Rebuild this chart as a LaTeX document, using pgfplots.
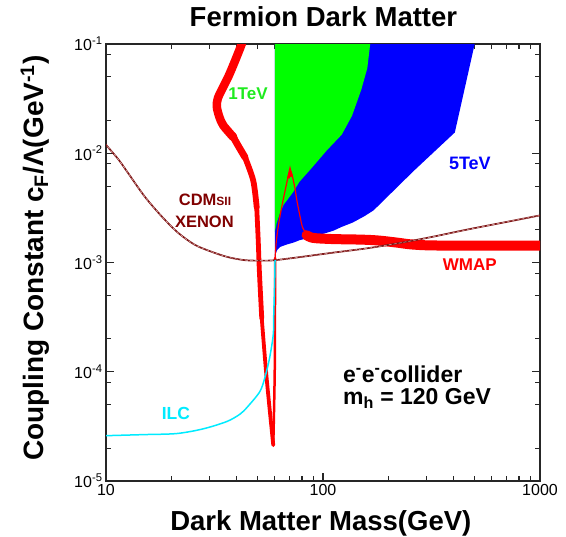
\documentclass[border=0pt]{standalone}
\usepackage{pgfplots}
\pgfplotsset{compat=1.18}
\usepackage{fontspec}
\setmainfont{Liberation Sans}

\definecolor{wmapred}{RGB}{255,0,0}
\definecolor{tevgreen}{RGB}{0,255,0}
\definecolor{tevgreentext}{RGB}{30,235,30}
\definecolor{tevblue}{RGB}{0,0,255}
\definecolor{ilccyan}{RGB}{0,235,255}
\definecolor{cdmsbrown}{RGB}{125,20,20}
\definecolor{cdmslight}{RGB}{225,180,180}
\definecolor{cdmstext}{RGB}{128,0,0}

\newcommand{\fs}[1]{\fontsize{#1bp}{#1bp}\selectfont}

\begin{document}
\begin{tikzpicture}
\begin{axis}[
  scale only axis, width=434bp, height=437bp,
  xmode=log, ymode=log,
  xmin=10, xmax=1000, ymin=1e-5, ymax=1e-1,
  xtick={10,100,1000}, xticklabels={10,100,1000},
  ytick={1e-5,1e-4,1e-3,1e-2,1e-1},
  yticklabels={10\textsuperscript{-5},10\textsuperscript{-4},10\textsuperscript{-3},10\textsuperscript{-2},10\textsuperscript{-1}},
  minor xtick={20,30,40,50,60,70,80,90,200,300,400,500,600,700,800,900},
  minor ytick={2e-5,5e-5,8e-5,2e-4,5e-4,8e-4,2e-3,5e-3,8e-3,2e-2,5e-2,8e-2},
  major tick length=8bp, minor tick length=5bp,
  tick style={line width=1.1bp, color=black!85},
  axis line style={line width=1.3bp, black!85},
  tick label style={font=\fs{16}},
  title={Fermion Dark Matter},
  title style={font=\bfseries\fs{27.5}, at={(axis description cs:0.501,1.027)}, anchor=base},
  xlabel={Dark Matter Mass(GeV)},
  xlabel style={font=\bfseries\fs{27.5}, at={(axis description cs:0.495,-0.1144)}, anchor=base},
  ylabel={Coupling Constant c\textsubscript{F}/Λ(GeV\textsuperscript{-1})},
  ylabel style={font=\bfseries\fs{28}, at={(axis description cs:-0.145,0.51)}, anchor=base},
]
% 5 TeV reach
\addplot[fill=tevblue, draw=none] coordinates {
  (60,1.05e-3) (60.5,1.2e-3) (61.5,1.3e-3) (63.5,1.39e-3) (68,1.46e-3)
  (73,1.52e-3) (78,1.6e-3) (90,1.72e-3) (104,1.87e-3) (112,1.96e-3)
  (122,2.12e-3) (137,2.32e-3) (155,2.65e-3) (171,3.0e-3) (262,6.9e-3)
  (405,0.0155) (500,0.1) (60,0.1)} -- cycle;
% 1 TeV reach
\addplot[fill=tevgreen, draw=none] coordinates {
  (60,0.1) (165,0.1) (160,0.06) (150,0.038) (136,0.022) (122,0.0148)
  (104,0.0106) (88,0.0072) (78,0.0055) (72.8,4.4e-3) (66,3.4e-3)
  (63.4,2.85e-3) (61.2,2.3e-3) (60,1.9e-3)} -- cycle;
% WMAP relic abundance band
\addplot[wmapred, line width=8.5bp, smooth, line cap=round, line join=round] coordinates {
  (43.5,0.13) (42.2,0.1) (37.2,0.0538) (34.7,0.0405) (32.8,0.032) (32.4,0.0268)
  (33.3,0.0215) (34.7,0.018) (38.6,0.01406)};
\addplot[wmapred, line width=7bp, smooth, line cap=round] coordinates {
  (38.6,0.01406) (41.2,0.0112) (43.7,0.0092)};
\addplot[wmapred, line width=5.8bp, smooth, line cap=round] coordinates {
  (43.7,0.0092) (47.7,0.00562) (49.5,0.00319)};
\addplot[wmapred, line width=4.8bp, smooth, line cap=round] coordinates {
  (49.5,0.00319) (50.3,0.00158) (50.9,8.36e-4) (52.2,3.1e-4)};
\addplot[wmapred, line width=3.8bp, smooth, line cap=round] coordinates {
  (52.2,3.1e-4) (55,8.7e-5) (59,2.13e-5)};
\addplot[wmapred, line width=2.5bp, smooth, line cap=round] coordinates {
  (59,2.13e-5) (59.6,5.4e-5) (60,1.3e-4) (60.1,5e-4) (60.15,1.1e-3)};
\addplot[wmapred, line width=1.2bp, smooth] coordinates {
  (60.15,1.1e-3) (61,1.6e-3) (63,2.5e-3) (66.5,4.3e-3) (70.5,6.9e-3)
  (73.5,5.3e-3) (76,3.6e-3) (78.5,2.6e-3) (80.5,2.1e-3) (84,1.8e-3)};
\addplot[wmapred, line width=2.6bp] coordinates {(69.2,5.9e-3) (70.5,6.9e-3) (71.6,6.1e-3)};
\addplot[wmapred, line width=10bp, smooth, line cap=round] coordinates {
  (84,1.78e-3) (90,1.68e-3) (110,1.64e-3) (150,1.62e-3) (180,1.59e-3)
  (220,1.52e-3) (260,1.46e-3) (350,1.43e-3) (1100,1.43e-3)};
% CDMS II / XENON direct detection limit
\addplot[cdmsbrown, line width=1.7bp, smooth] coordinates {
  (9.8,0.0125) (11.4,8.8e-3) (12.6,6.65e-3) (15.1,4.0e-3) (18.1,2.63e-3)
  (21.5,1.87e-3) (25.7,1.45e-3) (30.8,1.25e-3) (36.5,1.12e-3) (43.7,1.05e-3)
  (52.5,1.04e-3) (60,1.05e-3) (78,1.12e-3) (111,1.23e-3) (160,1.35e-3)
  (226,1.51e-3) (320,1.72e-3) (460,2.0e-3) (700,2.35e-3) (1000,2.7e-3)};
\addplot[cdmslight, line width=0.5bp, smooth, dash pattern=on 3bp off 2bp] coordinates {
  (9.8,0.0125) (11.4,8.8e-3) (12.6,6.65e-3) (15.1,4.0e-3) (18.1,2.63e-3)
  (21.5,1.87e-3) (25.7,1.45e-3) (30.8,1.25e-3) (36.5,1.12e-3) (43.7,1.05e-3)
  (52.5,1.04e-3) (60,1.05e-3) (78,1.12e-3) (111,1.23e-3) (160,1.35e-3)
  (226,1.51e-3) (320,1.72e-3) (460,2.0e-3) (700,2.35e-3) (1000,2.7e-3)};
% ILC reach
\addplot[ilccyan, line width=1.5bp, smooth] coordinates {
  (9.8,2.6e-5) (10,2.6e-5) (15,2.66e-5) (21.2,2.72e-5) (28,3.0e-5)
  (36,3.5e-5) (41.5,4.1e-5) (45,4.8e-5) (51.2,6.6e-5) (54.1,9e-5)
  (56.8,1.35e-4) (59,2.2e-4) (59.3,3.3e-4) (59.9,6.9e-4) (60.1,1.05e-3)};
% annotations
\node[font=\bfseries\fs{17}, text=tevgreentext] at (axis cs:45.1,0.0347) {1TeV};
\node[font=\bfseries\fs{18}, text=tevblue] at (axis cs:475,8.05e-3) {5TeV};
\node[font=\bfseries\fs{16.5}, text=cdmstext] at (axis cs:28.6,3.76e-3) {CDM{\fs{12}SII}};
\node[font=\bfseries\fs{16.5}, text=cdmstext] at (axis cs:28.4,2.36e-3) {XENON};
\node[font=\bfseries\fs{17}, text=wmapred] at (axis cs:475,9.5e-4) {WMAP};
\node[font=\bfseries\fs{17.5}, text=ilccyan] at (axis cs:21,4.13e-5) {ILC};
\node[font=\bfseries\fs{23}, anchor=base west, inner sep=0pt] at (axis cs:123.6,7.96e-5) {e\textsuperscript{-}e\textsuperscript{-}collider};
\node[font=\bfseries\fs{23}, anchor=base west, inner sep=0pt] at (axis cs:123.6,5.0e-5) {m\textsubscript{h} = 120 GeV};
\end{axis}
\pgfresetboundingbox
\path (-106bp,-56bp) rectangle (460bp,481bp);
\end{tikzpicture}
\end{document}
